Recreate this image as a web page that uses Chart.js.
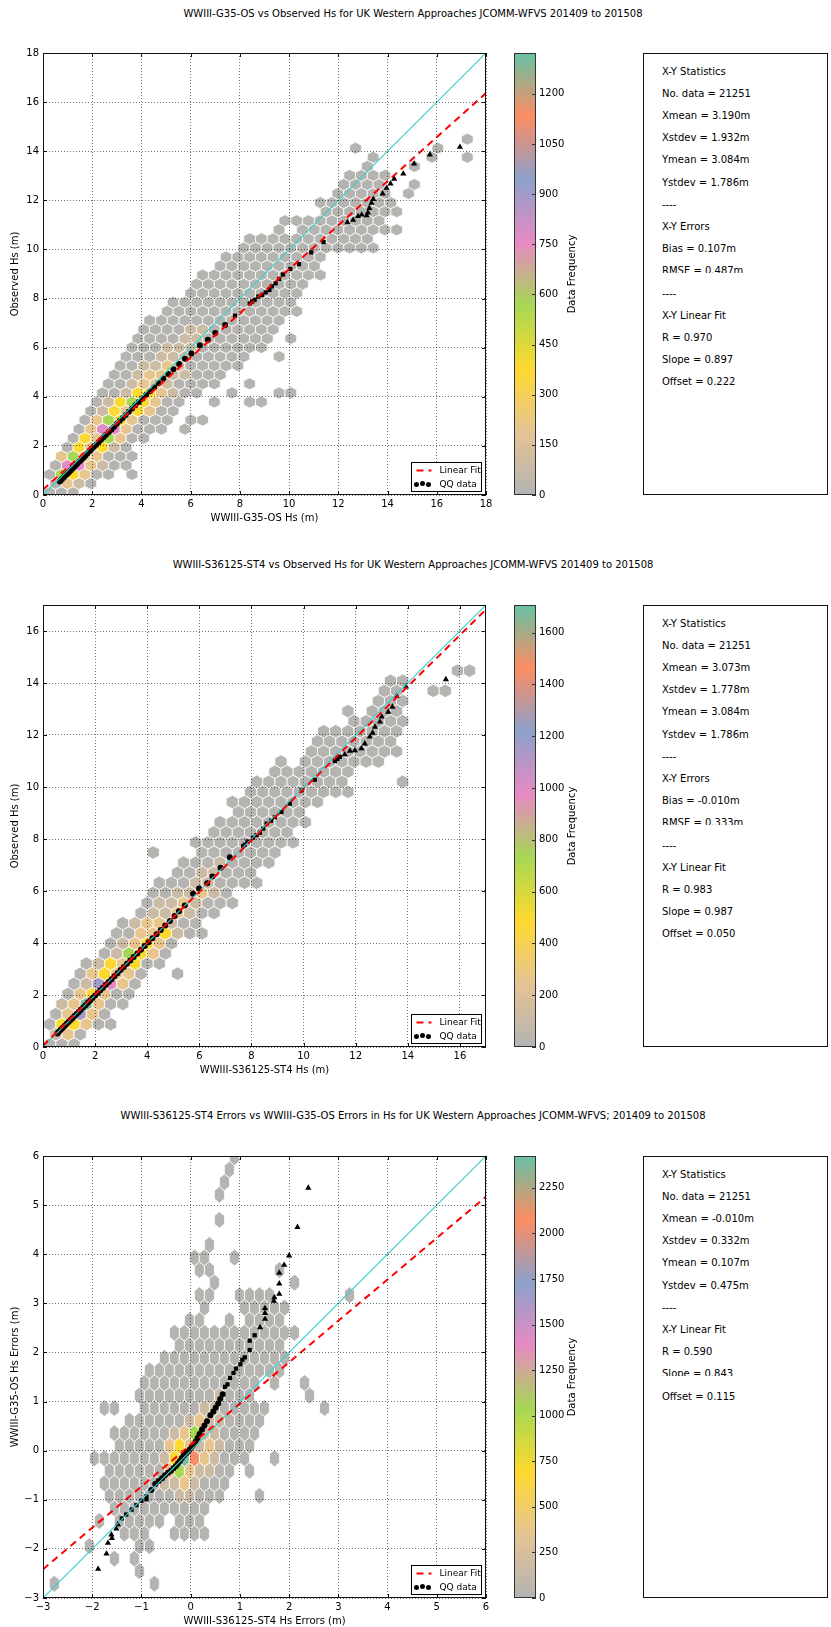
<!DOCTYPE html>
<html>
<head>
<meta charset="utf-8">
<script src="https://cdn.jsdelivr.net/npm/chart.js@4.4.1/dist/chart.umd.min.js"></script>
<style>
body { margin: 0; background: #fff; width: 831px; height: 1627px; position: relative; overflow: hidden; font-family: "DejaVu Sans", sans-serif; color: #000; }
canvas { position: absolute; }
.title { position: absolute; left: 0; width: 826px; text-align: center; font-size: 10px; line-height: 12px; white-space: nowrap; }
.stats { position: absolute; left: 643px; width: 185px; height: 442px; border: 1px solid #111; box-sizing: border-box; }
.sl { position: absolute; left: 18px; font-size: 10px; line-height: 12px; height: 12px; overflow: hidden; white-space: nowrap; }
</style>
</head>
<body>
<div class="title" id="t1" style="top:8px"></div>
<canvas id="m1" width="500" height="497" style="left:0;top:33px"></canvas>
<canvas id="c1" width="100" height="497" style="left:500px;top:33px"></canvas>
<div class="stats" id="s1" style="top:53px"></div>

<div class="title" id="t2" style="top:559px"></div>
<canvas id="m2" width="500" height="497" style="left:0;top:585px"></canvas>
<canvas id="c2" width="100" height="497" style="left:500px;top:585px"></canvas>
<div class="stats" id="s2" style="top:605px"></div>

<div class="title" id="t3" style="top:1110px"></div>
<canvas id="m3" width="500" height="497" style="left:0;top:1136px"></canvas>
<canvas id="c3" width="100" height="497" style="left:500px;top:1136px"></canvas>
<div class="stats" id="s3" style="top:1156px"></div>

<script>
// ---------- data ----------
const title1 = 'WWIII-G35-OS vs Observed Hs for UK Western Approaches JCOMM-WFVS 201409 to 201508';
const title2 = 'WWIII-S36125-ST4 vs Observed Hs for UK Western Approaches JCOMM-WFVS 201409 to 201508';
const title3 = 'WWIII-S36125-ST4 Errors vs WWIII-G35-OS Errors in Hs for UK Western Approaches JCOMM-WFVS; 201409 to 201508';

const xLabel1 = 'WWIII-G35-OS Hs (m)', yLabel1 = 'Observed Hs (m)';
const xLabel2 = 'WWIII-S36125-ST4 Hs (m)', yLabel2 = 'Observed Hs (m)';
const xLabel3 = 'WWIII-S36125-ST4 Hs Errors (m)', yLabel3 = 'WWIII-G35-OS Hs Errors (m)';

const ticks1 = [0, 2, 4, 6, 8, 10, 12, 14, 16, 18];
const ticks2 = [0, 2, 4, 6, 8, 10, 12, 14, 16];
const ticks3 = [-3, -2, -1, 0, 1, 2, 3, 4, 5, 6];

const cbMax1 = 1322, cbTicks1 = [0, 150, 300, 450, 600, 750, 900, 1050, 1200];
const cbMax2 = 1707, cbTicks2 = [0, 200, 400, 600, 800, 1000, 1200, 1400, 1600];
const cbMax3 = 2425, cbTicks3 = [0, 250, 500, 750, 1000, 1250, 1500, 1750, 2000, 2250];

const stats1 = ['X-Y Statistics', 'No. data = 21251', 'Xmean = 3.190m', 'Xstdev = 1.932m', 'Ymean = 3.084m', 'Ystdev = 1.786m', '----', 'X-Y Errors', 'Bias = 0.107m', 'RMSE = 0.487m', '----', 'X-Y Linear Fit', 'R = 0.970', 'Slope = 0.897', 'Offset = 0.222'];
const stats2 = ['X-Y Statistics', 'No. data = 21251', 'Xmean = 3.073m', 'Xstdev = 1.778m', 'Ymean = 3.084m', 'Ystdev = 1.786m', '----', 'X-Y Errors', 'Bias = -0.010m', 'RMSE = 0.333m', '----', 'X-Y Linear Fit', 'R = 0.983', 'Slope = 0.987', 'Offset = 0.050'];
const stats3 = ['X-Y Statistics', 'No. data = 21251', 'Xmean = -0.010m', 'Xstdev = 0.332m', 'Ymean = 0.107m', 'Ystdev = 0.475m', '----', 'X-Y Linear Fit', 'R = 0.590', 'Slope = 0.843', 'Offset = 0.115'];

// 1:1 lines and linear fits (end points)
const oneToOne1 = [[0, 0], [18, 18]];
const oneToOne2 = [[0, 0], [17, 17]];
const oneToOne3 = [[-3, -3], [6, 6]];
const fit1 = [[0, 0.222], [18, 16.368]];
const fit2 = [[0, 0.050], [17, 16.829]];
const fit3 = [[-3, -2.414], [6, 5.173]];

// hexbin lattices (bin origin and spacing in data units)
const hexGrid1 = { x0: 0.27, sx: 0.478, y0: 0.1, sy: 0.738 };
const hexGrid2 = { x0: 0.26, sx: 0.467, y0: 0.1, sy: 0.777 };
const hexGrid3 = { x0: -2.77, sx: 0.2033, y0: -2.71, sy: 0.511 };

// approximate bin counts for each code letter
const hexLevels1 = { g: 12, l: 95, t: 200, y: 385, G: 570, p: 760, b: 900, o: 1130, q: 1300 };
const hexLevels2 = { g: 15, l: 120, t: 260, y: 495, G: 735, p: 980, b: 1150, o: 1460, q: 1680 };
const hexLevels3 = { g: 20, l: 170, t: 370, y: 700, G: 1040, p: 1390, b: 1650, o: 2060, q: 2380 };

// hex rows from the bottom: "firstColumn:codes", '.' = empty bin
const hexRows1 = [
  '0:ggg', '0:gtlg', '0:gGytgg.g', '0:gpptlgg', '1:tGttggg', '1:gytylg', '2:gytGtgg', '2:gtpptggg.g',
  '3:gtGytggg.gg', '3:glytytgg', '4:glyGytgg..g..gg', '4:gglyytlgg..g...gg', '5:gglttlgggg..g', '5:gglttllggg',
  '6:gglltlggggg', '6:ggglllggggg..g', '7:ggglllgggggg', '7:ggggllgggggg.g', '8:ggggllgggggg', '8:gggggggggggg',
  '10:gggggggggggg', '10:ggggggggggg', '12:gggggggggg', '12:gggggggggg', '13:ggggggggggg', '14:ggggggggg',
  '15:ggggggggg', '16:gggggggggggg', '17:ggggggggggg', '19:g.ggggggggg', '20:ggggggggg', '23:ggggggg',
  '23:ggggggg', '24:ggggg.g', '25:gggg..g', '25:gggg', '27:g...g', '27:g....g..g', '26:g......g', '35:g'
];
const hexRows2 = [
  '0:ggg', '0:ltg', '0:gyytgg', '0:gtbtg', '1:ltqtgg', '1:gtytgg', '2:glbptg', '2:gtyttg..g',
  '3:glytygg', '4:glGytg', '5:gltytg', '5:ggttylgg', '6:glttlgg', '7:glltlgg', '8:glltlggg', '8:gglltlg',
  '9:gggllgggg', '10:ggllggg', '11:ggglgggg', '8:g...ggggggg', '12:ggggggggg', '13:ggggggg', '14:gggggggg',
  '15:gggggg', '15:gggggggg', '16:ggggggggg', '17:gggggggg....g', '18:ggggggg', '19:g.ggggggg', '21:gggggggg',
  '22:ggggggg', '22:ggggggg', '25:ggggg', '24:g.ggg', '27:ggg', '27:gg..gg', '28:gg', '33:gg'
];
const hexRows3 = [
  '0:g.........g', '8:g', '6:g.g', '3:g....gg', '7:ggg..gggg', '4:g.ggggg.ggg', '6:gggggggggg',
  '5:gggggggllggg...g', '5:gggggglltlggg', '5:ggggggtGtllgg.g', '4:ggggggglyqotlggg..g', '6:gggggtytltlggg',
  '6:ggggggltGllgggg', '7:ggggggltllgggg', '5:gg..ggggggllggggg.....g', '8:gggggggglggg.....g',
  '9:gggggggggggg.g..g', '9:gggggggggggggg', '11:ggggggggggggg', '12:ggggggggggg', '12:ggggggggggggg',
  '13:gg..g.gggg', '15:g...ggggg', '14:gg..gggg.......g', '16:g.......g', '14:gg......g', '14:gg..g',
  '15:g', '', '16:g', '', '16:g', '17:g', '17:g', '18:g'
];

// QQ data
const qqDots1 = [[0.68,0.55],[0.72,0.6],[0.77,0.65],[0.82,0.7],[0.88,0.76],[0.94,0.82],[1.0,0.88],[1.06,0.94],[1.12,1.0],[1.19,1.07],[1.26,1.14],[1.33,1.21],[1.4,1.28],[1.48,1.36],[1.56,1.44],[1.64,1.52],[1.72,1.6],[1.8,1.69],[1.89,1.78],[1.98,1.87],[2.07,1.96],[2.16,2.05],[2.26,2.15],[2.36,2.25],[2.46,2.35],[2.56,2.45],[2.67,2.56],[2.78,2.67],[2.89,2.78],[3.0,2.9],[3.12,3.02],[3.24,3.14],[3.36,3.26],[3.49,3.39],[3.62,3.52],[3.75,3.65],[3.89,3.79],[4.04,3.93],[4.19,4.08],[4.35,4.23],[4.52,4.39],[4.7,4.56],[4.89,4.74],[5.09,4.93],[5.3,5.12],[5.53,5.33],[5.77,5.55],[6.03,5.76],[6.37,6.1],[6.7,6.32],[7.0,6.6],[7.4,6.92]];
const qqSquares1 = [[7.8,7.3],[8.4,7.8],[8.5,7.88],[8.6,7.95],[8.75,8.08],[8.9,8.15],[9.05,8.25],[9.2,8.35],[9.3,8.5],[9.45,8.62],[9.6,8.8],[9.75,8.98],[10.05,9.2],[10.4,9.4],[10.9,9.88],[11.4,10.3]];
const qqTris1 = [[12.37,11.1],[12.6,11.2],[12.8,11.35],[12.95,11.41],[13.15,11.38],[13.2,11.5],[13.26,11.68],[13.35,11.89],[13.42,12.05],[13.8,12.27],[13.96,12.5],[14.12,12.68],[14.27,12.87],[14.64,13.08],[15.08,13.49],[15.72,13.86],[16.94,14.17]];

const qqDots2 = [[0.55,0.52],[0.6,0.58],[0.66,0.64],[0.72,0.7],[0.78,0.76],[0.85,0.83],[0.92,0.9],[0.99,0.97],[1.06,1.04],[1.13,1.11],[1.21,1.19],[1.29,1.27],[1.37,1.35],[1.45,1.43],[1.54,1.52],[1.63,1.61],[1.72,1.7],[1.81,1.79],[1.9,1.88],[2.0,1.98],[2.1,2.08],[2.2,2.18],[2.3,2.28],[2.41,2.39],[2.52,2.5],[2.63,2.61],[2.74,2.72],[2.86,2.84],[2.98,2.96],[3.1,3.08],[3.22,3.2],[3.35,3.33],[3.48,3.46],[3.62,3.6],[3.76,3.74],[3.9,3.88],[4.05,4.03],[4.2,4.18],[4.36,4.34],[4.52,4.5],[4.69,4.67],[4.87,4.85],[5.05,5.04],[5.22,5.22],[5.44,5.44],[5.76,5.89],[5.99,6.1],[6.3,6.3],[6.5,6.56],[6.81,6.89],[7.17,7.3]];
const qqSquares2 = [[7.68,7.72],[7.74,7.78],[7.85,7.9],[8.06,8.05],[8.2,8.15],[8.32,8.24],[8.45,8.4],[8.58,8.59],[8.75,8.7],[8.9,8.84],[9.15,9.04],[9.47,9.36],[9.92,9.87],[10.43,10.28],[11.2,11.0],[11.3,11.08],[11.39,11.16]];
const qqTris2 = [[11.58,11.25],[11.78,11.39],[11.97,11.41],[12.22,11.48],[12.35,11.67],[12.54,11.93],[12.65,12.08],[12.74,12.31],[12.93,12.51],[13.0,12.7],[13.25,12.89],[13.41,13.08],[13.57,13.5],[13.93,13.86],[15.46,14.14]];

const qqDots3 = [[-0.8,-0.8],[-0.72,-0.68],[-0.65,-0.62],[-0.58,-0.56],[-0.52,-0.5],[-0.46,-0.45],[-0.4,-0.41],[-0.35,-0.36],[-0.3,-0.31],[-0.26,-0.26],[-0.22,-0.21],[-0.18,-0.15],[-0.14,-0.1],[-0.1,-0.06],[-0.06,-0.02],[-0.02,0.02],[0.02,0.07],[0.06,0.12],[0.1,0.18],[0.14,0.26],[0.18,0.34],[0.23,0.43],[0.28,0.51],[0.33,0.6],[0.4,0.72],[0.46,0.8],[0.51,0.88],[0.56,0.96],[0.6,1.05],[0.65,1.15]];
const qqSquares3 = [[-1.4,-1.38],[-1.31,-1.3],[-1.2,-1.2],[-1.1,-1.11],[-1.0,-1.02],[-0.9,-0.99],[-0.9,-0.93],[0.7,1.3],[0.75,1.35],[0.8,1.48],[0.87,1.58],[0.92,1.67],[1.01,1.76],[1.05,1.85],[1.1,1.9],[1.2,2.05],[1.2,2.24],[1.3,2.35]];
const qqTris3 = [[-1.88,-2.41],[-1.71,-2.1],[-1.68,-1.88],[-1.6,-1.78],[-1.61,-1.71],[-1.51,-1.59],[-1.48,-1.5],[1.41,2.51],[1.51,2.68],[1.51,2.8],[1.51,2.9],[1.69,3.05],[1.7,3.12],[1.8,3.19],[1.8,3.4],[1.8,3.62],[1.9,3.78],[2.0,3.97],[2.17,4.55],[2.39,5.35]];

const legendLabels = ['Linear Fit', 'QQ data'];

// colour map (grey -> tan -> yellow -> green -> pink -> blue -> orange -> teal)
const cmapColors = ['#b3b3b3', '#e5c494', '#ffd92f', '#a6d854', '#e78ac3', '#8da0cb', '#fc8d62', '#66c2a5'];

// ---------- helpers ----------
const FONT = 'DejaVu Sans';
const cmapRgb = cmapColors.map(h => [1, 3, 5].map(i => parseInt(h.slice(i, i + 2), 16)));

function cmap(t) {
  t = Math.max(0, Math.min(1, t));
  const n = cmapRgb.length - 1;
  const i = Math.min(n - 1, Math.floor(t * n));
  const u = t * n - i;
  const a = cmapRgb[i], b = cmapRgb[i + 1];
  return 'rgb(' + a.map((v, k) => Math.round(v + (b[k] - v) * u)).join(',') + ')';
}

function hexCells(rows, levels, grid) {
  const cells = [];
  rows.forEach((row, r) => {
    if (!row) return;
    const [start, codes] = row.split(':');
    [...codes].forEach((ch, k) => {
      if (ch === '.') return;
      const c = +start + k;
      cells.push({ x: grid.x0 + (c + (r % 2) * 0.5) * grid.sx, y: grid.y0 + r * grid.sy / 2, count: levels[ch] });
    });
  });
  return cells;
}

const pts = arr => arr.map(([x, y]) => ({ x, y }));
const minus = v => (v < 0 ? '\u2212' + Math.abs(v) : String(v));

function hexPlugin(cells, grid, max) {
  return {
    id: 'hexbin',
    beforeDatasetsDraw(chart) {
      const { ctx, chartArea: a, scales: { x, y } } = chart;
      ctx.save();
      ctx.beginPath();
      ctx.rect(a.left, a.top, a.width, a.height);
      ctx.clip();
      cells.forEach(c => {
        const cx = x.getPixelForValue(c.x), cy = y.getPixelForValue(c.y);
        const hw = x.getPixelForValue(c.x + grid.sx / 2) - cx;
        const h6 = cy - y.getPixelForValue(c.y + grid.sy / 6);
        const h3 = cy - y.getPixelForValue(c.y + grid.sy / 3);
        ctx.beginPath();
        ctx.moveTo(cx + hw, cy - h6);
        ctx.lineTo(cx, cy - h3);
        ctx.lineTo(cx - hw, cy - h6);
        ctx.lineTo(cx - hw, cy + h6);
        ctx.lineTo(cx, cy + h3);
        ctx.lineTo(cx + hw, cy + h6);
        ctx.closePath();
        ctx.fillStyle = cmap(c.count / max);
        ctx.fill();
        ctx.strokeStyle = '#fff';
        ctx.lineWidth = 0.8;
        ctx.stroke();
      });
      ctx.restore();
    }
  };
}

// axes frame with inward ticks, plus the small legend box
const framePlugin = {
  id: 'frame',
  afterDraw(chart) {
    const { ctx, chartArea: a, scales: { x, y } } = chart;
    ctx.save();
    ctx.strokeStyle = '#111';
    ctx.lineWidth = 1;
    ctx.strokeRect(Math.round(a.left) + 0.5, Math.round(a.top) + 0.5, Math.round(a.width) - 1, Math.round(a.height) - 1);
    ctx.beginPath();
    x.ticks.forEach(t => {
      const p = Math.round(x.getPixelForValue(t.value)) + 0.5;
      ctx.moveTo(p, a.bottom); ctx.lineTo(p, a.bottom - 4);
      ctx.moveTo(p, a.top); ctx.lineTo(p, a.top + 4);
    });
    y.ticks.forEach(t => {
      const p = Math.round(y.getPixelForValue(t.value)) + 0.5;
      ctx.moveTo(a.left, p); ctx.lineTo(a.left + 4, p);
      ctx.moveTo(a.right, p); ctx.lineTo(a.right - 4, p);
    });
    ctx.stroke();

    // legend
    const bx = Math.round(a.right) - 74.5, by = Math.round(a.bottom) - 32.5;
    ctx.fillStyle = '#fff';
    ctx.fillRect(bx, by, 70, 29);
    ctx.strokeStyle = '#000';
    ctx.strokeRect(bx, by, 70, 29);
    ctx.strokeStyle = '#ff0000';
    ctx.lineWidth = 2;
    ctx.setLineDash([7, 5]);
    ctx.beginPath();
    ctx.moveTo(bx + 5, by + 8); ctx.lineTo(bx + 20, by + 8);
    ctx.stroke();
    ctx.setLineDash([]);
    ctx.fillStyle = '#000';
    [[bx + 5, by + 22], [bx + 11, by + 21], [bx + 17, by + 22]].forEach(([px, py]) => {
      ctx.beginPath(); ctx.arc(px, py, 2.5, 0, Math.PI * 2); ctx.fill();
    });
    ctx.font = '9px "' + FONT + '"';
    ctx.textBaseline = 'middle';
    ctx.fillText(legendLabels[0], bx + 28, by + 8);
    ctx.fillText(legendLabels[1], bx + 28, by + 22);
    ctx.restore();
  }
};

const cbPlugin = {
  id: 'cbFrame',
  afterDraw(chart) {
    const { ctx, chartArea: a, scales: { y } } = chart;
    ctx.save();
    ctx.strokeStyle = '#333';
    ctx.lineWidth = 1;
    ctx.strokeRect(Math.round(a.left) + 0.5, Math.round(a.top) + 0.5, Math.round(a.width) - 1, Math.round(a.height) - 1);
    ctx.beginPath();
    y.ticks.forEach(t => {
      const p = Math.round(y.getPixelForValue(t.value)) + 0.5;
      ctx.moveTo(a.right, p); ctx.lineTo(a.right - 4, p);
    });
    ctx.stroke();
    ctx.translate(72, (a.top + a.bottom) / 2);
    ctx.rotate(-Math.PI / 2);
    ctx.fillStyle = '#000';
    ctx.font = '10px "' + FONT + '"';
    ctx.textAlign = 'center';
    ctx.textBaseline = 'middle';
    ctx.fillText('Data Frequency', 0, 0);
    ctx.restore();
  }
};

function makeMain(id, p) {
  const tickFont = { family: FONT, size: 10 };
  const axis = (lo, hi, ticks, label, isX) => ({
    type: 'linear', min: lo, max: hi,
    afterBuildTicks: s => { s.ticks = ticks.map(v => ({ value: v })); },
    afterFit: s => { if (isX) s.height = 35; else s.width = 43; },
    grid: { color: 'rgba(0,0,0,0.55)', lineWidth: 1, drawTicks: false, z: 1 },
    border: { display: false, dash: [1, 2] },
    ticks: { font: tickFont, color: '#000', padding: isX ? 3 : 4, callback: minus },
    title: { display: true, text: label, font: tickFont, color: '#000', padding: isX ? { bottom: 6, top: 0 } : { top: 9, bottom: 0 } }
  });
  const marker = (data, style, r) => ({ data: pts(data), pointStyle: style, pointRadius: r, backgroundColor: '#000', borderColor: '#000', borderWidth: 0 });
  return new Chart(document.getElementById(id), {
    type: 'scatter',
    data: {
      datasets: [
        { data: pts(p.fit), showLine: true, borderColor: '#ff0000', borderWidth: 2, borderDash: [7, 5], pointRadius: 0 },
        { data: pts(p.one), showLine: true, borderColor: '#3ccfcf', borderWidth: 1.2, pointRadius: 0 },
        marker(p.dots, 'circle', 3),
        marker(p.squares, 'rect', 3),
        marker(p.tris, 'triangle', 3.6)
      ]
    },
    options: {
      responsive: false, animation: false, devicePixelRatio: 1,
      layout: { padding: { top: 20, right: 14, left: 0, bottom: 0 } },
      plugins: { legend: { display: false }, tooltip: { enabled: false } },
      scales: { x: axis(p.lo, p.hi, p.ticks, p.xLabel, true), y: axis(p.lo, p.hi, p.ticks, p.yLabel, false) }
    },
    plugins: [hexPlugin(hexCells(p.rows, p.levels, p.grid), p.grid, p.cbMax), framePlugin]
  });
}

function makeColorbar(id, max, ticks) {
  return new Chart(document.getElementById(id), {
    type: 'bar',
    data: {
      labels: [''],
      datasets: [{
        data: [max], barPercentage: 1, categoryPercentage: 1, borderWidth: 0,
        backgroundColor: c => {
          const a = c.chart.chartArea;
          if (!a) return cmapColors[0];
          const g = c.chart.ctx.createLinearGradient(0, a.bottom, 0, a.top);
          cmapColors.forEach((col, i) => g.addColorStop(i / (cmapColors.length - 1), col));
          return g;
        }
      }]
    },
    options: {
      responsive: false, animation: false, devicePixelRatio: 1,
      layout: { padding: { top: 20, right: 0, left: 14, bottom: 35 } },
      plugins: { legend: { display: false }, tooltip: { enabled: false } },
      scales: {
        x: { display: false },
        y: {
          position: 'right', min: 0, max: max,
          afterBuildTicks: s => { s.ticks = ticks.map(v => ({ value: v })); },
          afterFit: s => { s.width = 64; },
          grid: { display: false, drawTicks: false },
          border: { display: false },
          ticks: { font: { family: FONT, size: 10 }, color: '#000', padding: 3, callback: v => String(v) }
        }
      }
    },
    plugins: [cbPlugin]
  });
}

function fillStats(id, lines) {
  const box = document.getElementById(id);
  lines.forEach((t, i) => {
    const d = document.createElement('div');
    d.className = 'sl';
    d.style.top = (17.5 + i * 22.2 - 6) + 'px';
    if (i === 9) d.style.height = '8px';   // this line is cut off in the figure
    d.textContent = t;
    box.appendChild(d);
  });
}

// ---------- build ----------
document.getElementById('t1').textContent = title1;
document.getElementById('t2').textContent = title2;
document.getElementById('t3').textContent = title3;

makeMain('m1', { lo: 0, hi: 18, ticks: ticks1, xLabel: xLabel1, yLabel: yLabel1, fit: fit1, one: oneToOne1,
  dots: qqDots1, squares: qqSquares1, tris: qqTris1, rows: hexRows1, levels: hexLevels1, grid: hexGrid1, cbMax: cbMax1 });
makeMain('m2', { lo: 0, hi: 17, ticks: ticks2, xLabel: xLabel2, yLabel: yLabel2, fit: fit2, one: oneToOne2,
  dots: qqDots2, squares: qqSquares2, tris: qqTris2, rows: hexRows2, levels: hexLevels2, grid: hexGrid2, cbMax: cbMax2 });
makeMain('m3', { lo: -3, hi: 6, ticks: ticks3, xLabel: xLabel3, yLabel: yLabel3, fit: fit3, one: oneToOne3,
  dots: qqDots3, squares: qqSquares3, tris: qqTris3, rows: hexRows3, levels: hexLevels3, grid: hexGrid3, cbMax: cbMax3 });

makeColorbar('c1', cbMax1, cbTicks1);
makeColorbar('c2', cbMax2, cbTicks2);
makeColorbar('c3', cbMax3, cbTicks3);

fillStats('s1', stats1);
fillStats('s2', stats2);
fillStats('s3', stats3);
</script>
</body>
</html>
